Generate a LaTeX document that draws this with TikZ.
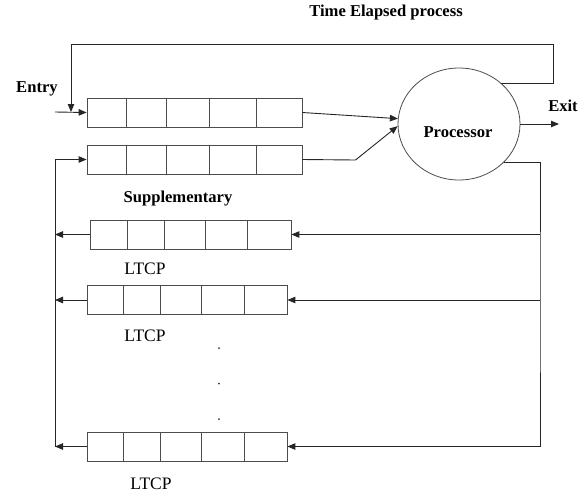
\documentclass[tikz,border=0pt]{standalone}
\usepackage{fontspec}
\setmainfont{Liberation Serif}
\usetikzlibrary{arrows.meta,shapes.geometric}
\begin{document}
\begin{tikzpicture}[x=1pt,y=-1pt,
  qbox/.style={draw=black!70,line width=0.8pt,minimum height=29pt,inner sep=0pt},
  qdiv/.style={draw=black!70,line width=0.8pt},
  conn/.style={draw=black!85,line width=0.9pt},
  arr/.style={conn,-{Triangle[length=8pt,width=6.5pt]}},
  lbl/.style={font=\fontsize{16.6}{18}\selectfont\bfseries,inner sep=0pt},
  ltcp/.style={font=\fontsize{17.5}{19}\selectfont,inner sep=0pt},
  dot/.style={circle,fill=black!80,minimum size=2pt,inner sep=0pt}]
\useasboundingbox (0,0) rectangle (586,496);

% queues
\node[qbox,minimum width=215pt] (q1) at (194.5,112.5) {};
\node[qbox,minimum width=215pt] (q2) at (194.5,159.5) {};
\node[qbox,minimum width=201pt] (A) at (190.5,234.5) {};
\node[qbox,minimum width=200pt] (B) at (187,300) {};
\node[qbox,minimum width=200pt] (C) at (187,446.5) {};
\foreach \d in {40,80,123,170}{
  \draw[qdiv] ([xshift=\d pt]q1.north west) -- ([xshift=\d pt]q1.south west);
  \draw[qdiv] ([xshift=\d pt]q2.north west) -- ([xshift=\d pt]q2.south west);}
\foreach \d in {37.5,75,115.5,158}{
  \draw[qdiv] ([xshift=\d pt]A.north west) -- ([xshift=\d pt]A.south west);}
\foreach \d in {37,74,115,157.5}{
  \draw[qdiv] ([xshift=\d pt]B.north west) -- ([xshift=\d pt]B.south west);
  \draw[qdiv] ([xshift=\d pt]C.north west) -- ([xshift=\d pt]C.south west);}

% processor
\node[ellipse,draw=black!70,line width=0.8pt,minimum width=122pt,minimum height=112pt,inner sep=0pt] (proc) at (459,124) {};
\node[lbl] (ptxt) at (458,132) {Processor};

% labels
\node[lbl] (tep) at (386,13) {Time Elapsed process};
\node[lbl] (entry) at (37,89) {Entry};
\node[lbl] (exitl) at (563,106) {Exit};
\node[lbl] (supp) at (178,199) {Supplementary};
\node[ltcp] (l1) at (145,269) {LTCP};
\node[ltcp] (l2) at (145,336) {LTCP};
\node[ltcp] (l3) at (151,484) {LTCP};
\node[dot] (d1) at (219,348) {};
\node[dot] (d2) at (219,383.5) {};
\node[dot] (d3) at (219,419) {};

% coordinates
\coordinate (ein) at (55,112);
\coordinate (fbr) at (553,44);
\coordinate (fbl) at (71,112);
\coordinate (bend) at (355.5,160);
\coordinate (exitpt) at (559,124);
\coordinate (rbus) at (540,300);
\coordinate (lbus) at (55,300);

% connectors
\draw[arr] (ein) -- (q1.west);
\draw[arr] (q1.east) -- (proc.175);
\draw[arr] (q2.east) -- (bend) -- (proc.182);
\draw[arr] (proc.east) -- (exitpt);
\draw[arr] (proc.44) -| (fbr) -| (fbl);
\draw[arr] (proc.-40) -| (rbus) |- (C.east);
\draw[arr] (rbus |- A.east) -- (A.east);
\draw[arr] (rbus |- B.east) -- (B.east);
\draw[arr] (A.west) -- (lbus |- A.west);
\draw[arr] (B.west) -- (lbus |- B.west);
\draw[arr] (C.west) -- (lbus |- C.west);
\draw[arr] (lbus |- C.west) |- (q2.west);
\end{tikzpicture}
\end{document}
